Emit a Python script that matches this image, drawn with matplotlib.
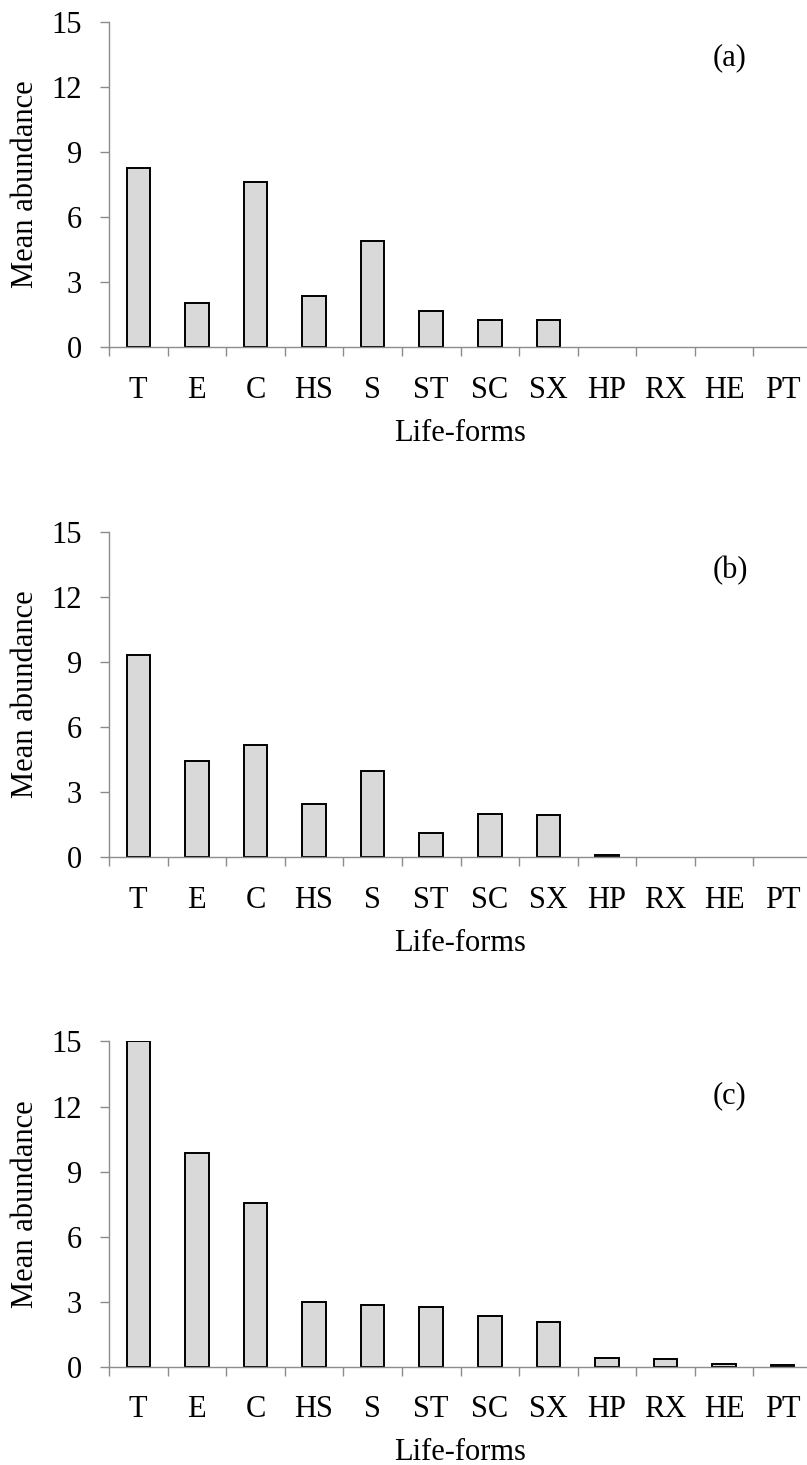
import matplotlib
matplotlib.use('Agg')
import matplotlib.pyplot as plt
import numpy as np

plt.rcParams['font.family'] = ['Liberation Serif', 'DejaVu Serif']

life_forms = ['T', 'E', 'C', 'HS', 'S', 'ST', 'SC', 'SX', 'HP', 'RX', 'HE', 'PT']
abund_a = [8.24, 2.05, 7.62, 2.37, 4.88, 1.69, 1.24, 1.24, 0, 0, 0, 0]
abund_b = [9.32, 4.42, 5.16, 2.47, 3.99, 1.14, 1.98, 1.94, 0.09, 0, 0, 0]
abund_c = [15.0, 9.85, 7.55, 3.0, 2.86, 2.77, 2.37, 2.06, 0.43, 0.35, 0.15, 0.08]
panel_tags = ['(a)', '(b)', '(c)']
yticks = [0, 3, 6, 9, 12, 15]

W, H = 807, 1465
fig = plt.figure(figsize=(W / 100, H / 100), dpi=100)

axis_grey = '#8c8c8c'
fs = 22
# (bottom pixel of x axis, y position of the tag in data units)
panels = [(347.3, 13.35), (857.3, 13.2), (1367.0, 12.5)]
series = [abund_a, abund_b, abund_c]

x = np.arange(len(life_forms))
for (base_px, tag_y), vals, tag in zip(panels, series, panel_tags):
    left = 109 / W
    width = 703 / W
    height = 325.6 / H
    bottom = 1 - base_px / H
    ax = fig.add_axes([left, bottom, width, height])

    # zero values get no outline (Excel draws nothing for them)
    lws = [1.4 if v > 0 else 0 for v in vals]
    ax.bar(x, vals, width=0.40, color='#d9d9d9', edgecolor='black', linewidth=lws, zorder=3)

    ax.set_xlim(-0.5, len(life_forms) - 0.5)
    ax.set_ylim(0, 15)
    ax.set_yticks(yticks)
    ax.set_yticklabels([str(t) for t in yticks], fontsize=fs)

    ax.set_xticks(x)
    ax.set_xticklabels(life_forms, fontsize=fs)
    ax.set_xticks(np.arange(-0.5, len(life_forms), 1.0), minor=True)
    ax.tick_params(axis='x', which='major', length=0, pad=20.5)
    ax.tick_params(axis='x', which='minor', length=6.5, width=1.0, color=axis_grey, direction='out')
    ax.tick_params(axis='y', which='major', length=6.5, width=1.0, color=axis_grey, direction='out', pad=13)

    for side in ['top', 'right']:
        ax.spines[side].set_visible(False)
    for side in ['left', 'bottom']:
        ax.spines[side].set_color(axis_grey)
        ax.spines[side].set_linewidth(1.0)
        ax.spines[side].set_zorder(4)

    ax.set_ylabel('Mean abundance', fontsize=fs, labelpad=8)
    ax.set_xlabel('Life-forms', fontsize=fs, labelpad=10)
    ax.text(10.1, tag_y, tag, fontsize=fs, ha='center', va='center')

plt.savefig('out.png', dpi=100)
